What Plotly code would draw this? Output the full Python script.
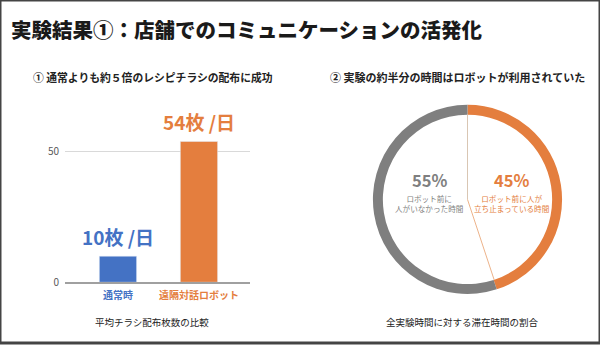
import math
import plotly.graph_objects as go

# ---- data ----
bar_categories = ["通常時", "遠隔対話ロボット"]
bar_values = [10, 54]
bar_labels = ["10枚 /日", "54枚 /日"]
bar_colors = ["#4472C4", "#E47E3E"]
y_ticks = [0, 50]

pie_labels = ["ロボット前に人が立ち止まっている時間", "ロボット前に人がいなかった時間"]
pie_values = [45, 55]
pie_colors = ["#E47E3E", "#7F7F7F"]
pie_pct = ["45%", "55%"]
pie_sub = ["ロボット前に人が<br>立ち止まっている時間", "ロボット前に<br>人がいなかった時間"]

title = "実験結果①：店舗でのコミュニケーションの活発化"
sub_left = "① 通常よりも約５倍のレシピチラシの配布に成功"
sub_right = "② 実験の約半分の時間はロボットが利用されていた"
cap_left = "平均チラシ配布枚数の比較"
cap_right = "全実験時間に対する滞在時間の割合"

FONT = "Noto Sans CJK JP"
W, H = 600, 350


def px(x):
    return x / W


def py(y):
    return 1 - y / H


fig = go.Figure()

fig.add_trace(go.Bar(
    x=bar_categories, y=bar_values, marker_color=bar_colors,
    width=0.46, hoverinfo="skip", showlegend=False,
))

PL, PR, PT, PB = 370, 565, 107, 300
pie_dom_x = [px(PL), px(PR)]
pie_dom_y = [py(PB), py(PT)]
HOLE = 0.895
fig.add_trace(go.Pie(
    labels=pie_labels, values=pie_values, sort=False, direction="clockwise",
    rotation=0, hole=HOLE, textinfo="none", hoverinfo="skip",
    marker=dict(colors=pie_colors, line=dict(width=0)),
    domain=dict(x=pie_dom_x, y=pie_dom_y), showlegend=False,
))

annotations = []
annotations.append(dict(text=title, x=px(9), y=py(30), xref="paper", yref="paper",
                        xanchor="left", yanchor="middle", showarrow=False,
                        font=dict(family=FONT, size=20.5, color="#1a1a1a", weight=900)))
annotations.append(dict(text=f"<b>{sub_left}</b>", x=px(153), y=py(79), xref="paper", yref="paper",
                        xanchor="center", yanchor="middle", showarrow=False,
                        font=dict(family=FONT, size=10.8, color="#222")))
annotations.append(dict(text=f"<b>{sub_right}</b>", x=px(457), y=py(79), xref="paper", yref="paper",
                        xanchor="center", yanchor="middle", showarrow=False,
                        font=dict(family=FONT, size=11, color="#222")))
annotations.append(dict(text=cap_left, x=px(152), y=py(329), xref="paper", yref="paper",
                        xanchor="center", yanchor="middle", showarrow=False,
                        font=dict(family=FONT, size=9.5, color="#222")))
annotations.append(dict(text=cap_right, x=px(462), y=py(329), xref="paper", yref="paper",
                        xanchor="center", yanchor="middle", showarrow=False,
                        font=dict(family=FONT, size=9.5, color="#222")))
for c, v, t, col in zip(bar_categories, bar_values, bar_labels, bar_colors):
    annotations.append(dict(text=f"<b>{t}</b>", x=c, y=v, xref="x", yref="y",
                            xanchor="center", yanchor="bottom", yshift=4, showarrow=False,
                            font=dict(family=FONT, size=19, color=col)))
pie_label_x = [px(511), px(429)]
for xx, pct, sub, col in zip(pie_label_x, pie_pct, pie_sub, pie_colors):
    annotations.append(dict(text=f"<b>{pct}</b>", x=xx, y=py(184), xref="paper", yref="paper",
                            xanchor="center", yanchor="middle", showarrow=False,
                            font=dict(family=FONT, size=16.5, color=col)))
    annotations.append(dict(text=sub, x=xx, y=py(208), xref="paper", yref="paper",
                            xanchor="center", yanchor="middle", showarrow=False,
                            font=dict(family=FONT, size=7.6, color=col)))

# radial separators of the pie, derived from the data
cx = (PL + PR) / 2
cy = (PT + PB) / 2
r_in = HOLE * (PB - PT) / 2
frac = pie_values[0] / sum(pie_values)
ang = 2 * math.pi * frac
shapes = [
    dict(type="line", xref="paper", yref="paper", x0=px(cx), y0=py(cy),
         x1=px(cx), y1=py(cy - r_in), line=dict(color="#D9C6B3", width=1)),
    dict(type="line", xref="paper", yref="paper", x0=px(cx), y0=py(cy),
         x1=px(cx + r_in * math.sin(ang)), y1=py(cy - r_in * math.cos(ang)),
         line=dict(color="#EDB38A", width=1)),
    dict(type="rect", xref="paper", yref="paper", x0=0, y0=0, x1=1, y1=1,
         line=dict(color="#444", width=3)),
]

ticktext = [f"<b><span style='color:{col}'>{c}</span></b>" for c, col in zip(bar_categories, bar_colors)]

fig.update_layout(
    width=W, height=H, margin=dict(l=0, r=0, t=0, b=0),
    paper_bgcolor="white", plot_bgcolor="white",
    font=dict(family=FONT),
    annotations=annotations, shapes=shapes,
    xaxis=dict(domain=[px(65), px(250)], range=[-0.654, 1.63], showgrid=False,
               showline=True, linecolor="#a0a0a0", linewidth=1.5,
               tickmode="array", tickvals=bar_categories, ticktext=ticktext,
               tickfont=dict(family=FONT, size=10), ticks="", ticklabelstandoff=3,
               fixedrange=True),
    yaxis=dict(domain=[py(288), py(128.4)], range=[0, 60], tickvals=y_ticks,
               showgrid=True, gridcolor="#d9d9d9", gridwidth=1.2, zeroline=False,
               tickfont=dict(family=FONT, size=10, color="#595959"), ticks="",
               ticklabelstandoff=5, fixedrange=True),
)

fig.write_html("out.html")
